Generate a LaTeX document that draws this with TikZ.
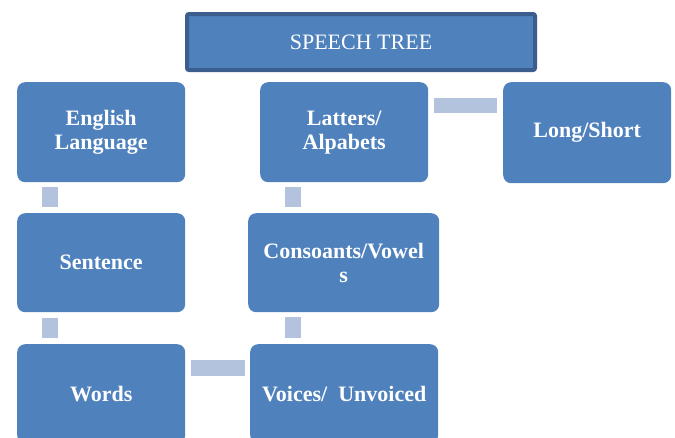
\documentclass[tikz,border=0pt]{standalone}
\usepackage{fontspec}
\setmainfont{Liberation Serif}
\definecolor{boxblue}{HTML}{4F81BD}
\definecolor{connblue}{HTML}{B3C3DE}
\definecolor{titleborder}{HTML}{3C5E8E}
\begin{document}
\begin{tikzpicture}[x=1pt,y=-1pt,
  box/.style={rectangle, rounded corners=8pt, fill=boxblue, anchor=north west, inner sep=0pt,
    align=center, font=\fontsize{22}{24}\selectfont\bfseries, text=white},
  titlebox/.style={rectangle, rounded corners=2pt, fill=boxblue, draw=titleborder, line width=4pt,
    anchor=north west, inner sep=0pt, minimum width=348pt, minimum height=56pt,
    font=\fontsize{22}{24}\selectfont, text=white},
  conn/.style={draw=connblue, line width=16pt}]
\useasboundingbox (0,0) rectangle (675,437);
\clip (0,0) rectangle (675,437);
\node[titlebox] (title) at (185,12) {SPEECH TREE};
\node[box, minimum width=168pt, minimum height=100pt] (eng) at (17,82) {English\\Language};
\node[box, minimum width=168pt, minimum height=100pt] (lat) at (260,82) {Latters/\\Alpabets};
\node[box, minimum width=168pt, minimum height=101pt] (long) at (503,82) {Long/Short};
\node[box, minimum width=168pt, minimum height=99pt] (sent) at (17,213) {Sentence};
\node[box, minimum width=191pt, minimum height=99pt] (cons) at (248,213) {Consoants/Vowel\\s};
\node[box, minimum width=168pt, minimum height=99pt] (words) at (17,344) {Words};
\node[box, minimum width=188pt, minimum height=99pt] (voice) at (250,344) {Voices/\ \ Unvoiced};
\draw[conn] ([xshift=33pt,yshift=-5pt]eng.south west) -- ([xshift=33pt,yshift=6pt]sent.north west);
\draw[conn] ([xshift=33pt,yshift=-6pt]sent.south west) -- ([xshift=33pt,yshift=6pt]words.north west);
\draw[conn] ([xshift=33pt,yshift=-5pt]lat.south west) -- ([xshift=45pt,yshift=6pt]cons.north west);
\draw[conn] ([xshift=45pt,yshift=-5pt]cons.south west) -- ([xshift=43pt,yshift=6pt]voice.north west);
\draw[conn, line width=15pt] ([xshift=6pt,yshift=-23.5pt]lat.north east) -- ([xshift=-6pt,yshift=-23.5pt]long.north west);
\draw[conn] ([xshift=6pt,yshift=-24pt]words.north east) -- ([xshift=-5pt,yshift=-24pt]voice.north west);
\end{tikzpicture}
\end{document}
